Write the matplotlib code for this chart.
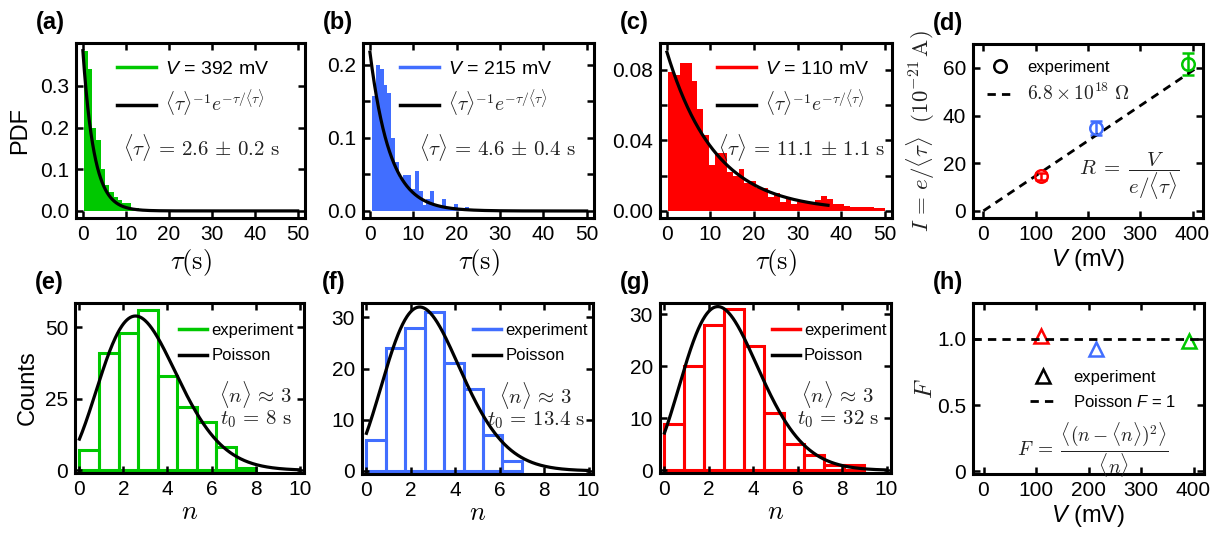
import math
import numpy as np
import matplotlib
matplotlib.use('Agg')
import matplotlib.pyplot as plt
from matplotlib.lines import Line2D

plt.rcParams['font.family'] = ['Liberation Sans', 'DejaVu Sans']
plt.rcParams['mathtext.fontset'] = 'cm'
# 'custom' math family is used for the sans-serif italic symbols (V, F)
plt.rcParams['mathtext.rm'] = 'Liberation Sans'
plt.rcParams['mathtext.it'] = 'Liberation Sans:italic'
plt.rcParams['mathtext.bf'] = 'Liberation Sans:bold'

GREEN = '#00c800'
BLUE = '#416eff'
RED = '#ff0000'
TXT = '#222222'

# ---- dwell time histograms (PDF), bins start / width / heights
voltages = [392, 215, 110]            # mV
tau_mean = [2.6, 4.6, 11.1]           # s
tau_err = [0.2, 0.4, 1.1]             # s

pdf_a_start, pdf_a_width = 0.15, 1.0
pdf_a = [0.383, 0.34, 0.200, 0.170, 0.100, 0.063, 0.045, 0.034, 0.026, 0.020,
         0.020, 0.008, 0.006, 0.004, 0.003, 0.003, 0.002, 0.002, 0.002, 0.002,
         0.002, 0.002, 0.002, 0.002, 0.002]

pdf_b_start, pdf_b_width = 0.45, 0.9
pdf_b = [0.157, 0.200, 0.195, 0.172, 0.161, 0.100, 0.067, 0.045, 0.049, 0.049,
         0.030, 0.055, 0.027, 0.008, 0.017, 0.027, 0.008, 0.007, 0.016, 0.005,
         0.004, 0.010, 0.004, 0.002, 0.006, 0.002]

pdf_c_start, pdf_c_width = 0.25, 1.35
pdf_c = [0.079, 0.077, 0.084, 0.084, 0.074, 0.058, 0.043, 0.026, 0.033, 0.033,
         0.022, 0.020, 0.024, 0.016, 0.017, 0.013, 0.013, 0.008, 0.010, 0.005,
         0.008, 0.004, 0.005, 0.005, 0.005, 0.006, 0.0085, 0.007, 0.004, 0.004,
         0.003, 0.002, 0.002, 0.002, 0.002, 0.0015, 0.0015]

# ---- counting statistics, counts for n = 0, 1, 2, ...
counts_e = [7, 41, 48, 56, 33, 22, 17, 8, 1]
counts_f = [6, 24, 28, 31, 21, 16, 7, 2]
counts_g = [9, 20, 28, 31, 24, 11, 5, 3, 1, 1]
t0_vals = ['8', '13.4', '32']

# ---- Fano factor
fano = [0.98, 0.92, 1.02]
R_ohm = 6.8e18
e_charge = 1.602e-19

fig = plt.figure(figsize=(12.25, 5.35), dpi=100)


def add_panel(left, top, right, bottom):
    W, H = 1225.0, 535.0
    return fig.add_axes([left / W, 1 - bottom / H, (right - left) / W, (bottom - top) / H])


def style(ax):
    for s in ax.spines.values():
        s.set_linewidth(2.2)
    ax.tick_params(which='both', direction='in', top=True, right=True,
                   length=5, width=1.8, labelsize=15, pad=5)


def tag(ax, s):
    ax.annotate(s, xy=(0, 1), xycoords='axes fraction', xytext=(-29, 14.5),
                textcoords='offset points', ha='left', va='center',
                fontsize=17, fontweight='bold')


def sans_math(texts):
    for t in texts:
        t.set_math_fontfamily('custom')


def tau_panel(ax, start, width, heights, color, V, tau, dtau, ylim, yt, ymin, tmax,
              leg_x, ann_x):
    edges = start + width * np.arange(len(heights))
    ax.bar(edges, heights, width=width, align='edge', color=color, linewidth=0)
    t = np.linspace(0, tmax, 400)
    ax.plot(t, np.exp(-t / tau) / tau, color='k', lw=2.3)
    ax.set_xlim(-1.6, 51.7)
    ax.set_ylim(*ylim)
    ax.set_xticks(np.arange(0, 51, 10))
    ax.set_yticks(yt)
    ax.set_yticks(ymin, minor=True)
    ax.set_xlabel(r'$\tau(\mathrm{s})$', fontsize=19, labelpad=2)
    handles = [Line2D([], [], color=color, lw=2.5),
               Line2D([], [], color='k', lw=2.5)]
    labels = ['$V$ = %d mV' % V,
              r'$\langle\tau\rangle^{-1}e^{-\tau/\langle\tau\rangle}$']
    leg = ax.legend(handles, labels, loc='upper left', bbox_to_anchor=(leg_x, 0.9),
                    frameon=False, fontsize=14, handlelength=2.0, handletextpad=0.45,
                    labelspacing=0.5, borderpad=0, borderaxespad=0)
    sans_math(leg.get_texts()[:1])
    leg.get_texts()[1].set_color(TXT)
    ax.text(ann_x, 0.405,
            r'$\langle\tau\rangle\,=\,%.1f\,\pm\,%.1f\ \mathrm{s}$' % (tau, dtau),
            transform=ax.transAxes, ha='center', va='center', fontsize=15, color=TXT)
    style(ax)


def count_panel(ax, counts, color, t0, ylim, yt, leg_x, ann_x):
    counts = np.array(counts)
    nmax = len(counts) - 1
    edges = np.linspace(0, nmax, len(counts) + 1)
    ax.bar(edges[:-1], counts, width=edges[1] - edges[0], align='edge',
           fill=False, edgecolor=color, linewidth=2.2)
    n = np.arange(len(counts))
    lam = (n * counts).sum() / counts.sum()
    x = np.linspace(0, 10, 400)
    lg = np.array([math.lgamma(v + 1) for v in x])
    ax.plot(x, counts.sum() * np.exp(x * np.log(lam) - lam - lg), color='k', lw=2.3)
    ax.set_xlim(-0.2, 10.2)
    ax.set_ylim(*ylim)
    ax.set_xticks(np.arange(0, 11, 2))
    ax.set_yticks(yt)
    ax.set_xlabel('$n$', fontsize=19, labelpad=1)
    handles = [Line2D([], [], color=color, lw=2.5),
               Line2D([], [], color='k', lw=2.5)]
    ax.legend(handles, ['experiment', 'Poisson'], loc='upper left',
              bbox_to_anchor=(leg_x, 0.885), frameon=False, fontsize=12,
              handlelength=1.7, handletextpad=0.25, labelspacing=0.65,
              borderpad=0, borderaxespad=0)
    ax.text(ann_x, 0.46, r'$\langle n\rangle\,\approx\,3$', transform=ax.transAxes,
            ha='center', va='center', fontsize=15, color=TXT)
    ax.text(ann_x, 0.315, r'$t_0\,=\,%s\ \mathrm{s}$' % t0, transform=ax.transAxes,
            ha='center', va='center', fontsize=15, color=TXT)
    style(ax)


# ---------------- top row
ax_a = add_panel(76, 43, 305, 218)
tau_panel(ax_a, pdf_a_start, pdf_a_width, pdf_a, GREEN, voltages[0], tau_mean[0], tau_err[0],
          (-0.017, 0.403), [0, 0.1, 0.2, 0.3], [], 50, 0.18, 0.546)
ax_a.set_ylabel('PDF', fontsize=17, labelpad=6)
tag(ax_a, '(a)')

ax_b = add_panel(363, 43, 594, 218)
tau_panel(ax_b, pdf_b_start, pdf_b_width, pdf_b, BLUE, voltages[1], tau_mean[1], tau_err[1],
          (-0.0096, 0.23), [0, 0.1, 0.2], [0.05, 0.15], 50, 0.16, 0.583)
tag(ax_b, '(b)')

ax_c = add_panel(660, 43, 892, 218)
tau_panel(ax_c, pdf_c_start, pdf_c_width, pdf_c, RED, voltages[2], tau_mean[2], tau_err[2],
          (-0.004, 0.0953), [0, 0.04, 0.08], [0.02, 0.06], 37, 0.246, 0.612)
tag(ax_c, '(c)')

# current vs voltage
ax_d = add_panel(973, 44, 1203, 218)
colors = [GREEN, BLUE, RED]
for V, tau, dtau, c in zip(voltages, tau_mean, tau_err, colors):
    I = e_charge / tau * 1e21
    dI = I * dtau / tau
    ax_d.errorbar(V, I, yerr=dI, fmt='o', mfc='none', mec=c, ecolor=c, ms=9, mew=1.8,
                  elinewidth=1.8, capsize=4.5, capthick=1.8)
Vline = np.linspace(0, 410, 50)
ax_d.plot(Vline, Vline * 1e-3 / R_ohm * 1e21, 'k--', lw=2.0, dashes=(3, 2.2))
ax_d.set_xlim(-20, 420)
ax_d.set_ylim(-3, 70)
ax_d.set_xticks([0, 100, 200, 300, 400])
ax_d.set_yticks([0, 20, 40, 60])
ax_d.set_xlabel('$V$ (mV)', fontsize=17, labelpad=2)
sans_math([ax_d.xaxis.label])
ax_d.set_ylabel(r'$I\,=\,e/\langle\tau\rangle\ \ (10^{-21}\,\mathrm{A})$', fontsize=16.5,
                labelpad=4, color=TXT)
handles = [Line2D([], [], color='k', marker='o', mfc='none', ls='none', ms=9, mew=1.8),
           Line2D([], [], color='k', ls='--', lw=2.0, dashes=(3, 2.2))]
leg = ax_d.legend(handles, ['experiment', r'$6.8\times10^{18}\ \Omega$'], loc='upper left',
                  bbox_to_anchor=(0.06, 0.91), frameon=False, fontsize=12,
                  handlelength=1.6, handletextpad=0.8, labelspacing=0.5,
                  borderpad=0, borderaxespad=0)
leg.get_texts()[1].set_color(TXT)
leg.get_texts()[1].set_fontsize(14)
ax_d.text(0.68, 0.24, r'$R\;=\;\dfrac{V}{e/\langle\tau\rangle}$', transform=ax_d.transAxes,
          ha='center', va='center', fontsize=15, color=TXT)
style(ax_d)
tag(ax_d, '(d)')

# ---------------- bottom row
ax_e = add_panel(75, 303, 304, 473)
count_panel(ax_e, counts_e, GREEN, t0_vals[0], (-0.9, 58.4), [0, 25, 50], 0.454, 0.79)
ax_e.set_ylabel('Counts', fontsize=17, labelpad=4)
tag(ax_e, '(e)')

ax_f = add_panel(362, 303, 593, 474)
count_panel(ax_f, counts_f, BLUE, t0_vals[1], (-0.6, 32.8), [0, 10, 20, 30], 0.479, 0.753)
tag(ax_f, '(f)')

ax_g = add_panel(660, 303, 891, 473)
count_panel(ax_g, counts_g, RED, t0_vals[2], (-0.5, 32.2), [0, 10, 20, 30], 0.483, 0.77)
tag(ax_g, '(g)')

# Fano factor vs voltage
ax_h = add_panel(973, 303, 1204, 474)
for V, F, c in zip(voltages, fano, colors):
    ax_h.plot(V, F, marker='^', mfc='none', mec=c, ms=10, mew=1.8, ls='none')
ax_h.axhline(1.0, color='k', ls='--', lw=2.0, dashes=(3, 2.2))
ax_h.set_xlim(-20, 420)
ax_h.set_ylim(-0.02, 1.27)
ax_h.set_xticks([0, 100, 200, 300, 400])
ax_h.set_yticks([0, 0.5, 1.0])
ax_h.set_yticklabels(['0', '0.5', '1.0'])
ax_h.set_xlabel('$V$ (mV)', fontsize=17, labelpad=2)
sans_math([ax_h.xaxis.label])
ax_h.set_ylabel('$F$', fontsize=18, labelpad=0, color=TXT)
handles = [Line2D([], [], color='k', marker='^', mfc='none', ls='none', ms=10, mew=1.8),
           Line2D([], [], color='k', ls='--', lw=2.0, dashes=(3, 2.2))]
leg = ax_h.legend(handles, ['experiment', 'Poisson $F$ = 1'], loc='upper left',
                  bbox_to_anchor=(0.245, 0.61), frameon=False, fontsize=12,
                  handlelength=1.6, handletextpad=1.0, labelspacing=0.55,
                  borderpad=0, borderaxespad=0)
sans_math(leg.get_texts())
ax_h.text(0.52, 0.14,
          r'$F\;=\;\dfrac{\langle(n-\langle n\rangle)^2\rangle}{\langle n\rangle}$',
          transform=ax_h.transAxes, ha='center', va='center', fontsize=14, color=TXT)
style(ax_h)
tag(ax_h, '(h)')

fig.savefig('out.png', dpi=100)
